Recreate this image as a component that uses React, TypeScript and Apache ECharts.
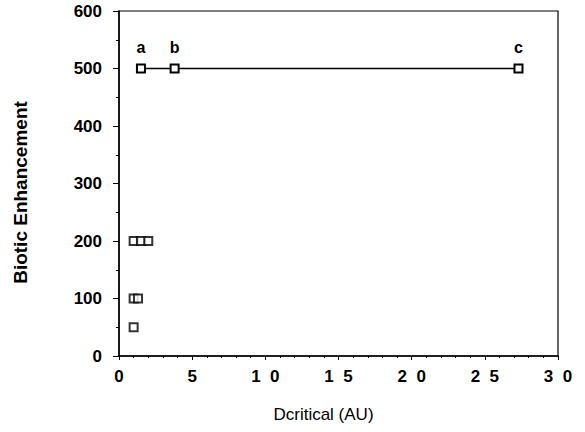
import React, { useEffect, useRef } from "react";
import * as echarts from "echarts";

const lineX = [1.5, 3.8, 27.3];
const lineY = [500, 500, 500];
const lineLabels = ["a", "b", "c"];
const clusterX = [1.0, 1.5, 2.0, 1.0, 1.3, 1.0];
const clusterY = [200, 200, 200, 100, 100, 50];
const xTicks = [0, 5, 10, 15, 20, 25, 30];
const yTicks = [0, 100, 200, 300, 400, 500, 600];

export default function App() {
  const ref = useRef<HTMLDivElement>(null);
  useEffect(() => {
    const chart = echarts.init(ref.current!, null, { renderer: "svg" });
    const font = "Liberation Sans";
    chart.setOption({
      animation: false,
      backgroundColor: "#fff",
      grid: { left: 119, right: 27, top: 11, bottom: 76, show: true, borderColor: "#000", borderWidth: 1.2 },
      xAxis: {
        type: "value",
        min: xTicks[0],
        max: xTicks[xTicks.length - 1],
        interval: 5,
        name: "Dcritical (AU)",
        nameLocation: "middle",
        nameGap: 50,
        nameTextStyle: { color: "#000", fontFamily: font, fontSize: 17, padding: [0, 30, 0, 0] },
        axisLine: { lineStyle: { color: "#000", width: 1.5 } },
        axisTick: { show: true, inside: false, length: 4, lineStyle: { color: "#000" } },
        minorTick: { show: true, splitNumber: 5, length: 2, lineStyle: { color: "#000" } },
        splitLine: { show: false },
        axisLabel: {
          color: "#000",
          fontFamily: font,
          fontWeight: "bold",
          fontSize: 17,
          margin: 12,
          formatter: (v: number) => String(v).split("").join("  "),
        },
      },
      yAxis: {
        type: "value",
        min: yTicks[0],
        max: yTicks[yTicks.length - 1],
        interval: 100,
        name: "Biotic Enhancement",
        nameLocation: "middle",
        nameGap: 89,
        nameTextStyle: { color: "#000", fontFamily: font, fontSize: 19, fontWeight: "bold", padding: [0, 18, 0, 0] },
        axisLine: { lineStyle: { color: "#000", width: 1.5 } },
        axisTick: { show: true, length: 6, lineStyle: { color: "#000" } },
        minorTick: { show: true, splitNumber: 2, length: 3, lineStyle: { color: "#000" } },
        splitLine: { show: false },
        axisLabel: { color: "#000", fontFamily: font, fontWeight: "bold", fontSize: 17, margin: 17 },
      },
      series: [
        {
          type: "line",
          data: lineX.map((x, i) => [x, lineY[i]]),
          symbol: "rect",
          symbolSize: 8,
          itemStyle: { color: "#fff", borderColor: "#000", borderWidth: 2 },
          lineStyle: { color: "#000", width: 1.5 },
          label: {
            show: true,
            position: "top",
            distance: 8,
            color: "#000",
            fontFamily: font,
            fontWeight: "bold",
            fontSize: 16,
            formatter: (p: any) => lineLabels[p.dataIndex],
          },
        },
        {
          type: "scatter",
          data: clusterX.map((x, i) => [x, clusterY[i]]),
          symbol: "rect",
          symbolSize: 8,
          itemStyle: { color: "#fff", borderColor: "#000", borderWidth: 2 },
        },
      ],
    });
    return () => chart.dispose();
  }, []);
  return <div ref={ref} style={{ width: 585, height: 432, position: "absolute", left: 0, top: 0 }} />;
}
